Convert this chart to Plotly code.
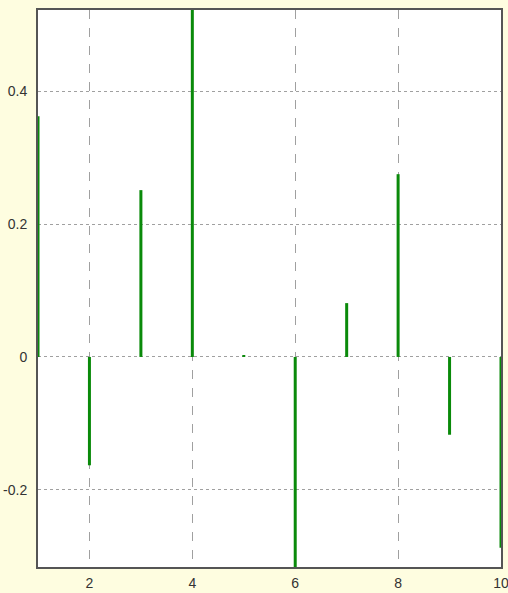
import plotly.graph_objects as go

x_vals = [1, 2, 3, 4, 5, 6, 7, 8, 9, 10]
y_vals = [0.362, -0.163, 0.251, 0.522, 0.003, -0.316, 0.081, 0.275, -0.117, -0.287]
x_ticks = [2, 4, 6, 8, 10]
x_tick_labels = ["2", "4", "6", "8", "10"]
y_ticks = [-0.2, 0, 0.2, 0.4]
y_tick_labels = ["-0.2", "0", "0.2", "0.4"]

sx, sy = [], []
for xv, yv in zip(x_vals, y_vals):
    sx += [xv, xv, None]
    sy += [0, yv, None]

fig = go.Figure()
fig.add_trace(go.Scatter(x=sx, y=sy, mode="lines",
                         line=dict(color="#0a8a0a", width=3),
                         hoverinfo="skip", showlegend=False))

font = dict(family="Liberation Sans Narrow, Liberation Sans, Arial, sans-serif",
            size=14, color="#333333")

fig.update_layout(
    width=508, height=593,
    paper_bgcolor="#fefde0",
    plot_bgcolor="#ffffff",
    margin=dict(l=38, r=7, t=10, b=26, autoexpand=False),
    showlegend=False,
    font=font,
)
fig.update_xaxes(range=[min(x_vals), max(x_vals)],
                 tickvals=x_ticks, ticktext=x_tick_labels,
                 showgrid=True, gridcolor="#a0a0a0", gridwidth=1, griddash="dash",
                 zeroline=False, showline=True, linecolor="#555555", linewidth=2,
                 mirror=True, ticks="", tickfont=font, automargin=False,
                 ticklabeloverflow="allow", ticklabelstandoff=2)
fig.update_yaxes(range=[min(y_vals), max(y_vals)],
                 tickvals=y_ticks, ticktext=y_tick_labels,
                 showgrid=True, gridcolor="#a0a0a0", gridwidth=1, griddash="dot",
                 zeroline=False, showline=True, linecolor="#555555", linewidth=2,
                 mirror=True, ticks="", tickfont=font, automargin=False,
                 ticklabeloverflow="allow", ticklabelstandoff=6)

fig.write_html("out.html", config={"displayModeBar": False},
               post_script="document.body.style.margin='0';")
